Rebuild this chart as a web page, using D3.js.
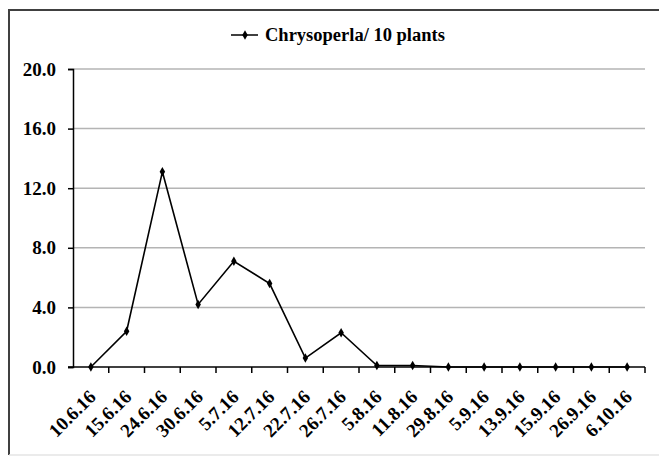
<!DOCTYPE html>
<html>
<head>
<meta charset="utf-8">
<script src="https://cdn.jsdelivr.net/npm/d3@7"></script>
<style>
  body { margin: 0; background: #fff; }
</style>
</head>
<body>
<div class="chart"></div>
<script>
let FRAME_WIDTH = 659;
let FRAME_HEIGHT = 456;
let MARGINS = {left: 73, right: 14, top: 69, bottom: 89};
let FONT = "Liberation Serif";

// data
let DATES = ["10.6.16", "15.6.16", "24.6.16", "30.6.16", "5.7.16", "12.7.16", "22.7.16", "26.7.16",
             "5.8.16", "11.8.16", "29.8.16", "5.9.16", "13.9.16", "15.9.16", "26.9.16", "6.10.16"];
let CHRYSOPERLA = [0, 2.4, 13.1, 4.2, 7.1, 5.6, 0.6, 2.3, 0.1, 0.1, 0, 0, 0, 0, 0, 0];
let Y_TICKS = [0, 4, 8, 12, 16, 20];
let SERIES_NAME = "Chrysoperla/ 10 plants";

let FRAME = d3.select(".chart")
              .append("svg")
              .attr("width", FRAME_WIDTH)
              .attr("height", FRAME_HEIGHT);

// outer border: dark top and left, faint bottom
FRAME.append("path")
     .attr("d", "M9,455V10H660")
     .attr("fill", "none")
     .attr("stroke", "#404040")
     .attr("stroke-width", 2);
FRAME.append("line")
     .attr("x1", 9).attr("x2", 660)
     .attr("y1", 455).attr("y2", 455)
     .attr("stroke", "#e4e4e4")
     .attr("stroke-width", 1.5);

let PLOT_WIDTH = FRAME_WIDTH - MARGINS.left - MARGINS.right;
let PLOT_HEIGHT = FRAME_HEIGHT - MARGINS.top - MARGINS.bottom;

const X_SCALE = d3.scaleBand()
                  .domain(DATES)
                  .range([0, PLOT_WIDTH]);

const Y_SCALE = d3.scaleLinear()
                  .domain([0, 20])
                  .range([PLOT_HEIGHT, 0]);

let plot = FRAME.append("g")
                .attr("transform", "translate(" + MARGINS.left + "," + MARGINS.top + ")");

// gridlines
plot.selectAll(".grid")
    .data(Y_TICKS.filter(d => d > 0))
    .enter()
    .append("line")
      .attr("x1", 0).attr("x2", PLOT_WIDTH)
      .attr("y1", d => Y_SCALE(d)).attr("y2", d => Y_SCALE(d))
      .attr("stroke", "#b4b4b4")
      .attr("stroke-width", 1.5);

// y axis
let yAxis = plot.append("g")
    .call(d3.axisLeft(Y_SCALE).tickValues(Y_TICKS).tickFormat(d3.format(".1f")).tickSize(5).tickPadding(12));
yAxis.attr("font-family", null).attr("font-size", null);
yAxis.selectAll("text")
     .attr("fill", "#000")
     .attr("font-family", FONT)
     .attr("font-weight", "bold")
     .attr("font-size", 19);
yAxis.selectAll("line, path").attr("stroke", "#000").attr("stroke-width", 1.5);

// x axis: ticks on the band edges
let xAxis = plot.append("g")
    .attr("transform", "translate(0," + PLOT_HEIGHT + ")");
xAxis.append("line")
     .attr("x1", -5).attr("x2", PLOT_WIDTH)
     .attr("stroke", "#000").attr("stroke-width", 1.5);
xAxis.selectAll(".xtick")
     .data(DATES)
     .enter()
     .append("line")
       .attr("x1", d => X_SCALE(d) + X_SCALE.bandwidth())
       .attr("x2", d => X_SCALE(d) + X_SCALE.bandwidth())
       .attr("y1", 0).attr("y2", 6)
       .attr("stroke", "#000").attr("stroke-width", 1.5);
xAxis.selectAll(".xlabel")
     .data(DATES)
     .enter()
     .append("text")
       .attr("transform", d => "translate(" + (X_SCALE(d) + X_SCALE.bandwidth() / 2 + 6) + ",31) rotate(-45)")
       .attr("text-anchor", "end")
       .attr("font-family", FONT)
       .attr("font-weight", "bold")
       .attr("font-size", 19)
       .text(d => d);

// line
let line = d3.line()
             .x((d, i) => X_SCALE(DATES[i]) + X_SCALE.bandwidth() / 2)
             .y(d => Y_SCALE(d));

plot.append("path")
    .datum(CHRYSOPERLA)
    .attr("d", line)
    .attr("fill", "none")
    .attr("stroke", "#000")
    .attr("stroke-width", 1.6);

plot.selectAll(".pt")
    .data(CHRYSOPERLA)
    .enter()
    .append("path")
      .attr("d", d3.symbol().type(d3.symbolDiamond).size(26))
      .attr("transform", (d, i) => "translate(" + (X_SCALE(DATES[i]) + X_SCALE.bandwidth() / 2) + "," + Y_SCALE(d) + ")")
      .attr("fill", "#000");

// legend
let legend = FRAME.append("g").attr("transform", "translate(231,35)");
legend.append("line")
      .attr("x1", 0).attr("x2", 27)
      .attr("stroke", "#000").attr("stroke-width", 1.5);
legend.append("path")
      .attr("d", d3.symbol().type(d3.symbolDiamond).size(26))
      .attr("transform", "translate(14,0)")
      .attr("fill", "#000");
legend.append("text")
      .attr("x", 34)
      .attr("dy", "0.35em")
      .attr("font-family", FONT)
      .attr("font-weight", "bold")
      .attr("font-size", 18.5)
      .text(SERIES_NAME);
</script>
</body>
</html>
